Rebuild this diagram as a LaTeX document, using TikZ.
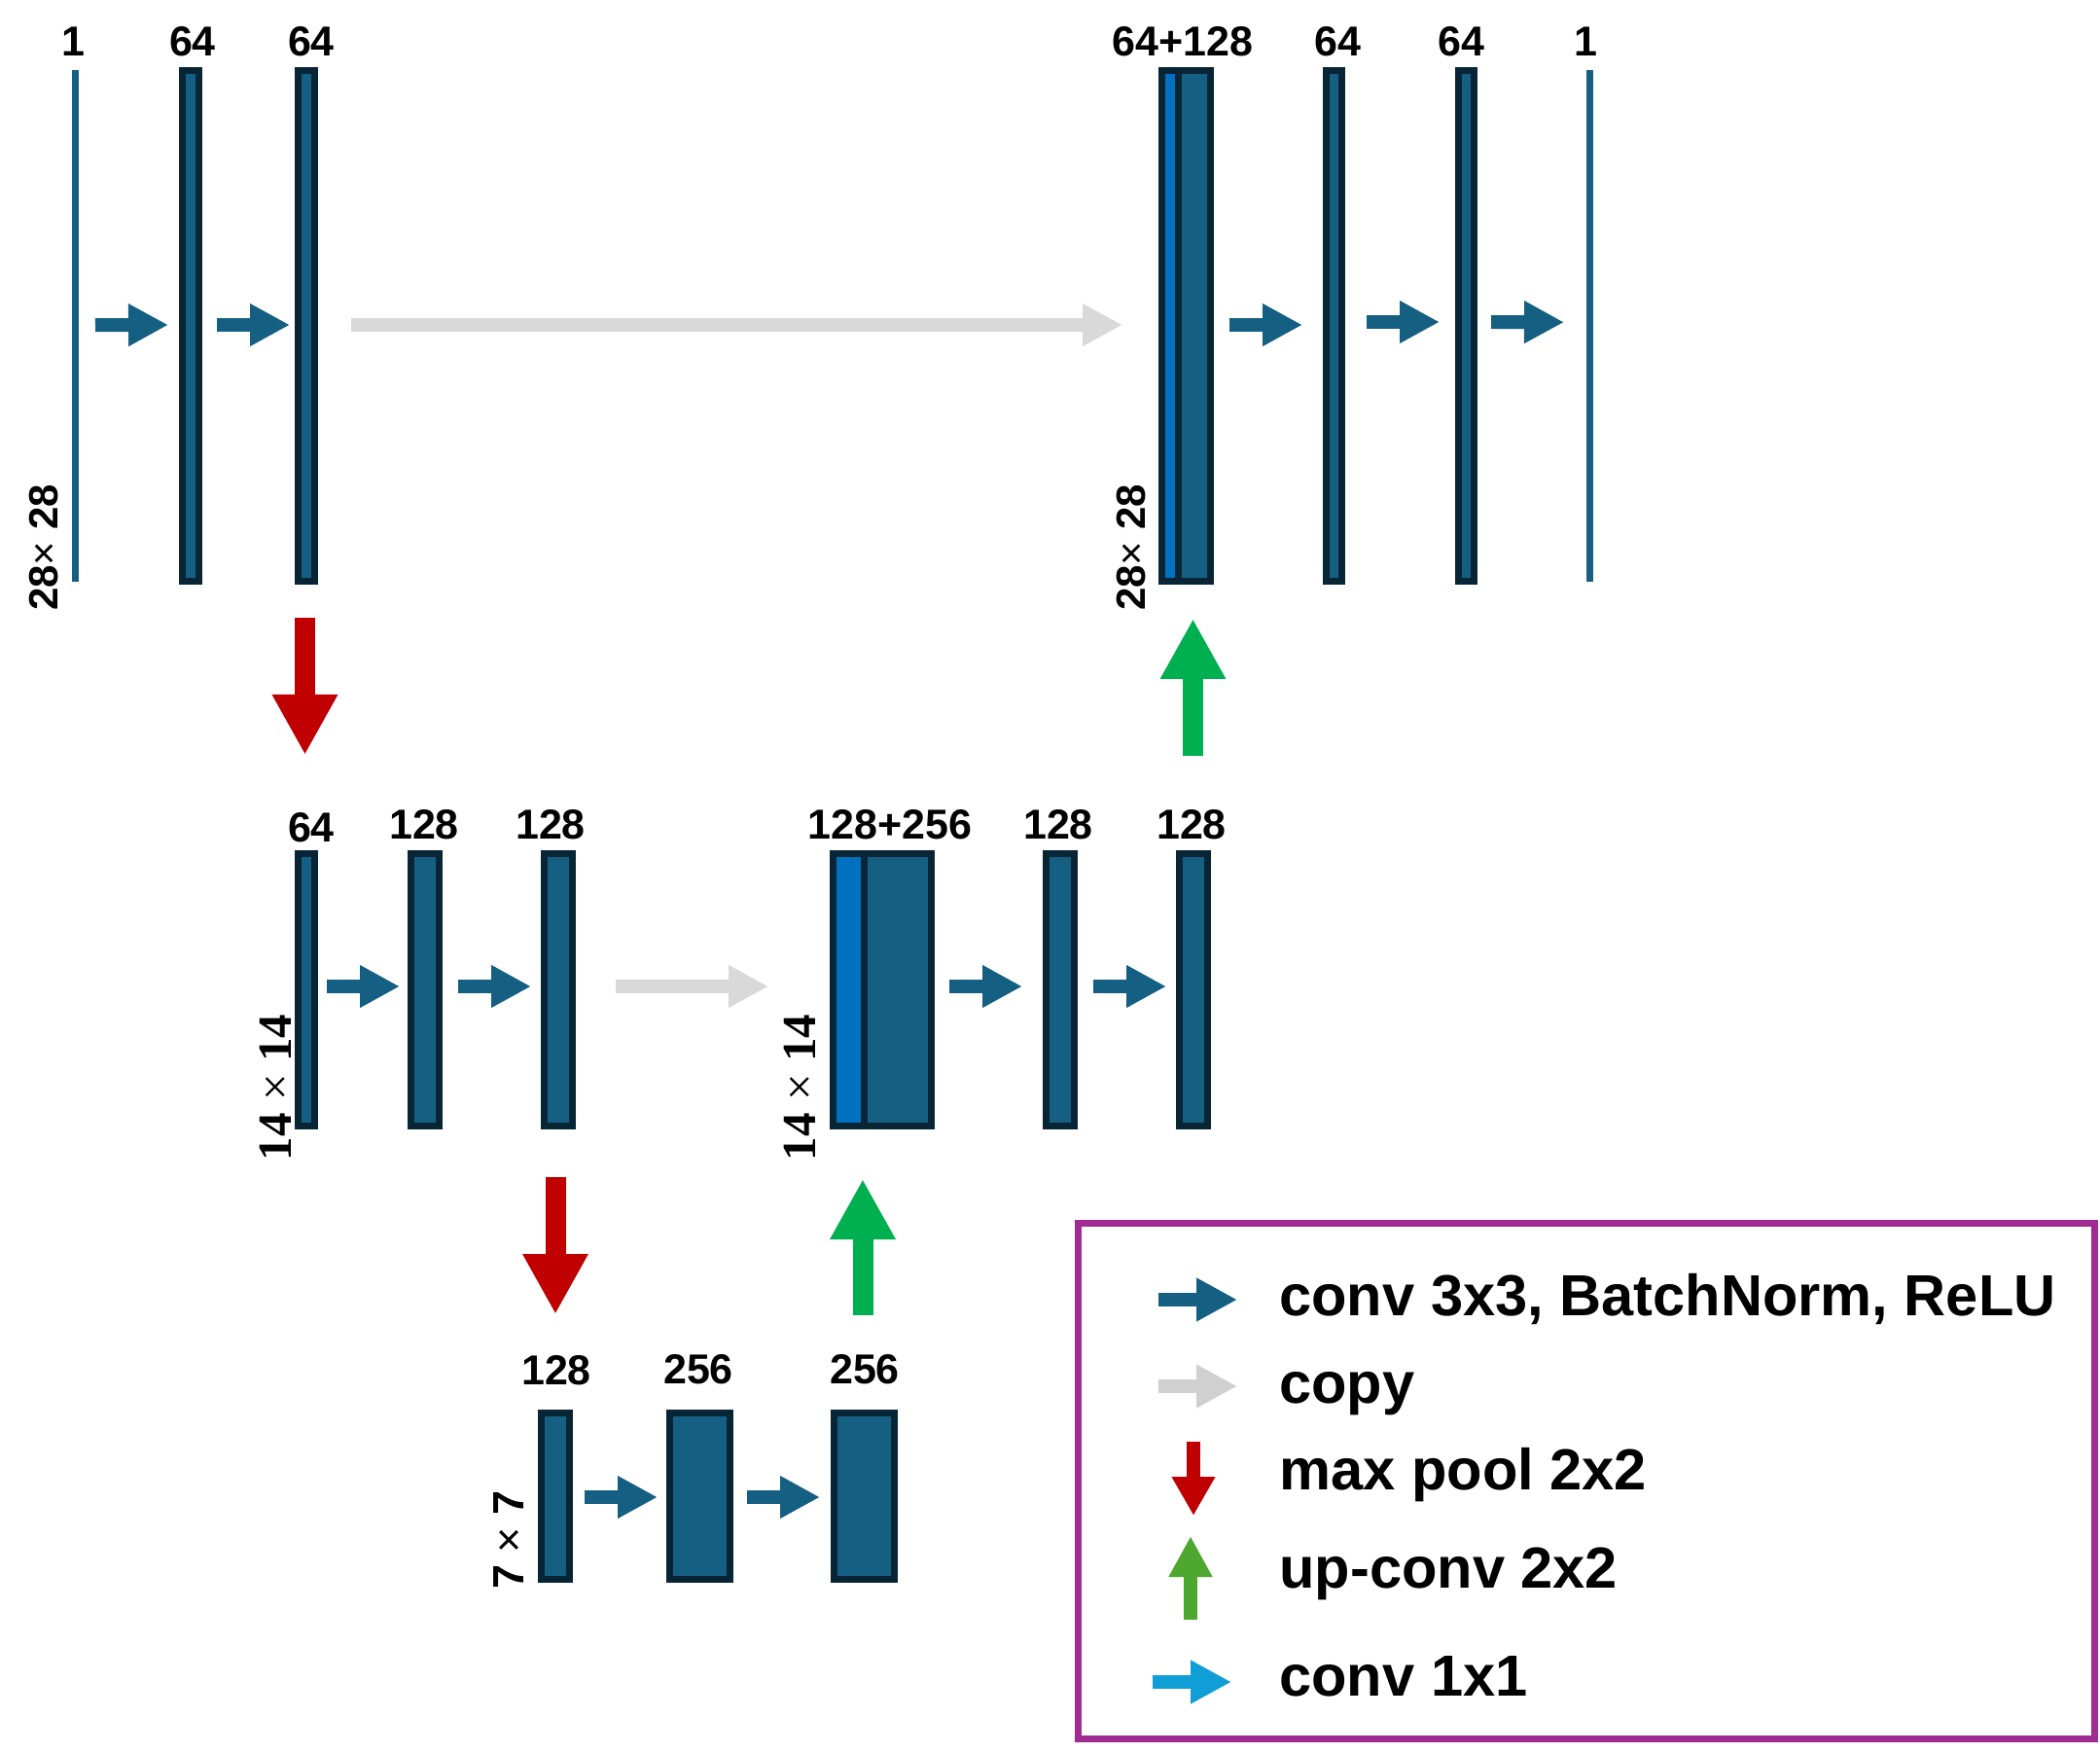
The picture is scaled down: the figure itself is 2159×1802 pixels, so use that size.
\documentclass[tikz,border=0pt]{standalone}
\usepackage{fontspec}
\setmainfont{Liberation Sans}
\newfontfamily\serfont{Liberation Serif}
\usetikzlibrary{arrows.meta,calc}
\definecolor{boxfill}{HTML}{156082}
\definecolor{boxline}{HTML}{082536}
\definecolor{catblue}{HTML}{0070C0}
\definecolor{copygray}{HTML}{D9D9D9}
\definecolor{legray}{HTML}{D0D0D0}
\definecolor{poolred}{HTML}{C00000}
\definecolor{upgreen}{HTML}{00B050}
\definecolor{legreen}{HTML}{4EA72E}
\definecolor{onebyone}{HTML}{0F9ED5}
\definecolor{legpurple}{HTML}{A02B93}
\begin{document}
\begin{tikzpicture}[x=0.5pt,y=-0.5pt,
  fm/.style={draw=boxline, fill=boxfill, line width=3.3pt, inner sep=0pt, outer sep=0pt},
  catfm/.style={fm, fill=catblue},
  toprow/.style={minimum height=262.7pt},
  midrow/.style={minimum height=140.2pt},
  botrow/.style={minimum height=85.7pt},
  thinmap/.style={fill=boxfill, inner sep=0pt, outer sep=0pt, minimum width=3.5pt, minimum height=262.75pt},
  lbl/.style={font=\bfseries\fontsize{21.5}{24}\selectfont, anchor=base, inner sep=0pt},
  dimsans/.style={font=\bfseries\fontsize{21}{24}\selectfont, rotate=90, inner sep=0pt},
  dimserif/.style={font=\serfont\fontsize{24.5}{27}\selectfont, rotate=90, inner sep=0pt},
  convarrow/.style={draw=boxfill, line width=7pt, -{Triangle[length=20.5pt,width=20.5pt]}},
  copyarrow/.style={draw=copygray, line width=7pt, -{Triangle[length=20.5pt,width=20.5pt]}},
  poolarrow/.style={draw=poolred, line width=10.5pt, -{Triangle[length=31pt,width=31.5pt]}},
  uparrow/.style={draw=upgreen, line width=10.5pt, -{Triangle[length=31pt,width=31.5pt]}},
  legarrow/.style={line width=7pt, -{Triangle[length=21pt,width=21pt]}},
  legtext/.style={font=\bfseries\fontsize{29.8}{32}\selectfont, anchor=base west, inner sep=0pt}]

\fill[white] (0,0) rectangle (2159,1802);
\path[use as bounding box] (0,0) rectangle (2159,1802);

% ---------- top row (28x28) ----------
\node[thinmap] (in1) at (77.5,335.25) {};
\node[fm, toprow, minimum width=8.7pt] (b64a) at (196,335) {};
\node[fm, toprow, minimum width=8.7pt] (b64b) at (315,335) {};
\node[fm, toprow, minimum width=16.6pt] (cat1R) at (1228.1,335) {};
\node[catfm, toprow, minimum width=8.6pt] (cat1L) at (1202.9,335) {};
\node[fm, toprow, minimum width=8.2pt] (b64c) at (1371.5,335) {};
\node[fm, toprow, minimum width=8.2pt] (b64d) at (1507.5,335) {};
\node[thinmap] (out1) at (1634.5,335.25) {};

\node[lbl] (lin1) at (75,58) {1};
\node[lbl] (lb64a) at (198,58) {64};
\node[lbl] (lb64b) at (320,58) {64};
\node[lbl] (lcat1) at (1216,58) {64+128};
\node[lbl] (lb64c) at (1375,58) {64};
\node[lbl] (lb64d) at (1502,58) {64};
\node[lbl] (lout1) at (1630,58) {1};

\node[dimsans] (dim28a) at (45,563) {28{\mdseries ×} 28};
\node[dimsans] (dim28b) at (1163,563) {28{\mdseries ×} 28};

% ---------- middle row (14x14) ----------
\node[fm, midrow, minimum width=8.7pt] (m64) at (315,1017.5) {};
\node[fm, midrow, minimum width=14.7pt] (m128a) at (437,1017.5) {};
\node[fm, midrow, minimum width=14.7pt] (m128b) at (574,1017.5) {};
\node[fm, midrow, minimum width=34.6pt] (cat2R) at (923.1,1017.5) {};
\node[catfm, midrow, minimum width=16.1pt] (cat2L) at (872.4,1017.5) {};
\node[fm, midrow, minimum width=14.7pt] (m128c) at (1090,1017.5) {};
\node[fm, midrow, minimum width=14.7pt] (m128d) at (1227,1017.5) {};

\node[lbl] (lm64) at (320,865) {64};
\node[lbl] (lm128a) at (436,863) {128};
\node[lbl] (lm128b) at (566,863) {128};
\node[lbl] (lcat2) at (915,863) {128+256};
\node[lbl] (lm128c) at (1088,863) {128};
\node[lbl] (lm128d) at (1225,863) {128};

\node[dimserif] (dim14a) at (283,1118) {{\bfseries 14} × {\bfseries 14}};
\node[dimserif] (dim14b) at (822,1118) {{\bfseries 14} × {\bfseries 14}};

% ---------- bottom row (7x7) ----------
\node[fm, botrow, minimum width=14.7pt] (bb128) at (571,1538) {};
\node[fm, botrow, minimum width=31.2pt] (bb256a) at (719.5,1538) {};
\node[fm, botrow, minimum width=31.2pt] (bb256b) at (888.5,1538) {};

\node[lbl] (lbb128) at (572,1423) {128};
\node[lbl] (lbb256a) at (718,1422) {256};
\node[lbl] (lbb256b) at (889,1422) {256};

\node[dimsans, font=\bfseries\fontsize{22.5}{25}\selectfont] (dim7) at (523,1583) {7 {\mdseries ×} 7};

% ---------- conv arrows ----------
\draw[convarrow] ($(in1.east)+(17,-1)$) -- ($(b64a.west)+(-14.3,-1)$);
\draw[convarrow] ($(b64a.east)+(18.3,-1)$) -- ($(b64b.west)+(-8.3,-1)$);
\draw[convarrow] ($(cat1R.east)+(19.3,-1)$) -- ($(b64c.west)+(-24.3,-1)$);
\draw[convarrow] ($(b64c.east)+(25.3,-4)$) -- ($(b64d.west)+(-19.3,-4)$);
\draw[convarrow] ($(b64d.east)+(17.3,-4)$) -- ($(out1.west)+(-23,-4)$);
\draw[convarrow] ($(m64.east)+(12.3,-3.5)$) -- ($(m128a.west)+(-11.3,-3.5)$);
\draw[convarrow] ($(m128a.east)+(19.3,-3.5)$) -- ($(m128b.west)+(-13.3,-3.5)$);
\draw[convarrow] ($(cat2R.east)+(18.3,-3.5)$) -- ($(m128c.west)+(-24.3,-3.5)$);
\draw[convarrow] ($(m128c.east)+(19.3,-3.5)$) -- ($(m128d.west)+(-13.3,-3.5)$);
\draw[convarrow] ($(bb128.east)+(15.3,1)$) -- ($(bb256a.west)+(-12.3,1)$);
\draw[convarrow] ($(bb256a.east)+(17.3,1)$) -- ($(bb256b.west)+(-14.3,1)$);

% ---------- copy arrows ----------
\draw[copyarrow] ($(b64b.east)+(37.3,-1)$) -- ($(cat1L.west)+(-40.3,-1)$);
\draw[copyarrow] ($(m128b.east)+(44.3,-3.5)$) -- ($(cat2L.west)+(-66.3,-3.5)$);

% ---------- max pool ----------
\draw[poolarrow] ($(b64b.south)+(-1.5,37.3)$) -- ($(m64.north)+(-1.5,-101.3)$);
\draw[poolarrow] ($(bb128.north |- m128b.south)+(0,52.3)$) -- ($(bb128.north)+(0,-101.3)$);

% ---------- up-conv ----------
\draw[uparrow] ($(bb256b.north)+(-1.5,-100.3)$) -- ($(bb256b.north |- cat2L.south)+(-1.5,54.3)$);
\draw[uparrow] ($(m128d.north)+(-0.5,-100.3)$) -- ($(m128d.north |- cat1R.south)+(-0.5,38.3)$);

% ---------- legend ----------
\node[draw=legpurple, line width=3.5pt, inner sep=0pt, outer sep=0pt,
      minimum width=522.5pt, minimum height=265pt] (legend) at (1631,1522.5) {};
\draw[legarrow, draw=boxfill] (1191,1336) -- (1272,1336);
\draw[legarrow, draw=legray] (1191,1425) -- (1272,1425);
\draw[legarrow, draw=poolred, -{Triangle[length=20pt,width=21pt]}] (1227,1482) -- (1227,1558);
\draw[legarrow, draw=legreen] (1224,1665) -- (1224,1579);
\draw[legarrow, draw=onebyone] (1185,1729) -- (1266,1729);

\node[legtext] (t1) at (1315,1352) {conv 3x3, BatchNorm, ReLU};
\node[legtext] (t2) at (1315,1442.5) {copy};
\node[legtext] (t3) at (1315,1531) {max pool 2x2};
\node[legtext] (t4) at (1315,1632) {up-conv 2x2};
\node[legtext] (t5) at (1315,1743.5) {conv 1x1};
\end{tikzpicture}
\end{document}
